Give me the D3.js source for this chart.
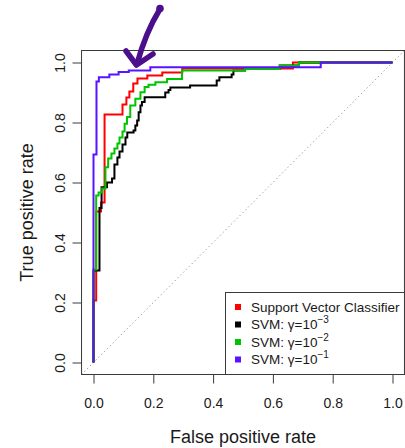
<!DOCTYPE html>
<html><head><meta charset="utf-8">
<script src="https://cdn.jsdelivr.net/npm/d3@7"></script>
<style>
html,body{margin:0;padding:0;background:#fff;}
svg{display:block;font-family:"Liberation Sans",Arial,Helvetica,sans-serif;}
</style></head>
<body>
<svg id="chart" width="405" height="448"></svg>
<script>
// ROC curve points: (fpr at which rise occurs, tpr after rise)
const fprSVC = [0, 0, 0.009, 0.025, 0.037, 0.097, 0.110, 0.120, 0.133, 0.147, 0.180, 0.230, 0.297, 0.667, 1];
const tprSVC = [0, 0.207, 0.503, 0.533, 0.827, 0.860, 0.883, 0.903, 0.930, 0.947, 0.957, 0.967, 0.980, 1.0, 1];

const fprG3 = [0, 0, 0.020, 0.027, 0.045, 0.062, 0.070, 0.080, 0.087, 0.097, 0.107, 0.113, 0.134, 0.140, 0.146, 0.151, 0.157, 0.162, 0.171, 0.240, 0.251, 0.257, 0.323, 0.412, 0.421, 0.462, 0.468, 0.507, 0.623, 0.687, 1];
const tprG3 = [0, 0.307, 0.515, 0.584, 0.600, 0.613, 0.660, 0.683, 0.703, 0.727, 0.750, 0.767, 0.773, 0.790, 0.807, 0.834, 0.857, 0.868, 0.884, 0.900, 0.908, 0.917, 0.923, 0.940, 0.951, 0.960, 0.973, 0.978, 0.990, 1.0, 1];

const fprG2 = [0, 0, 0.009, 0.017, 0.029, 0.040, 0.049, 0.060, 0.070, 0.080, 0.087, 0.097, 0.104, 0.112, 0.123, 0.140, 0.157, 0.171, 0.184, 0.207, 0.246, 0.296, 0.507, 0.623, 0.687, 1];
const tprG2 = [0, 0.310, 0.557, 0.567, 0.580, 0.651, 0.680, 0.697, 0.713, 0.730, 0.750, 0.770, 0.796, 0.818, 0.857, 0.879, 0.901, 0.918, 0.926, 0.934, 0.945, 0.973, 0.978, 0.990, 1.0, 1];

const fprG1 = [0, 0, 0.010, 0.018, 0.053, 0.084, 0.118, 0.190, 0.760, 1];
const tprG1 = [0, 0.693, 0.937, 0.951, 0.960, 0.968, 0.973, 0.984, 1.0, 1];

const seriesNames = ["Support Vector Classifier", "SVM: \u03b3=10", "SVM: \u03b3=10", "SVM: \u03b3=10"];
const seriesExp = ["", "\u22123", "\u22122", "\u22121"];
const seriesColors = ["#FF0000", "#000000", "#00C400", "#5A12FF"];
const xTicks = [0, 0.2, 0.4, 0.6, 0.8, 1.0];
const yTicks = [0, 0.2, 0.4, 0.6, 0.8, 1.0];

const svg = d3.select("#chart");
const x = d3.scaleLinear().domain([0, 1]).range([93.5, 392.5]);
const y = d3.scaleLinear().domain([0, 1]).range([362.5, 62.5]);
const bx0 = x(-0.04), bx1 = x(1.04), by0 = y(1.04), by1 = y(-0.04);

// diagonal reference line (clipped to box)
svg.append("line")
  .attr("x1", x(-0.04)).attr("y1", y(-0.04))
  .attr("x2", x(1.04)).attr("y2", y(1.04))
  .attr("stroke", "#9a9a9a").attr("stroke-width", 1)
  .attr("stroke-dasharray", "1.3,2.7");

const line = d3.line().x(d => x(d[0])).y(d => y(d[1])).curve(d3.curveStepAfter);
const allSeries = [[fprSVC, tprSVC], [fprG3, tprG3], [fprG2, tprG2], [fprG1, tprG1]];
allSeries.forEach((s, i) => {
  const pts = s[0].map((v, j) => [v, s[1][j]]);
  svg.append("path").datum(pts)
    .attr("d", line).attr("fill", "none")
    .attr("stroke", seriesColors[i]).attr("stroke-width", 2)
    .attr("stroke-linejoin", "miter").attr("stroke-linecap", "butt");
});

// box
svg.append("rect").attr("x", bx0).attr("y", by0)
  .attr("width", bx1 - bx0).attr("height", by1 - by0)
  .attr("fill", "none").attr("stroke", "#3a3a3a").attr("stroke-width", 1);

// x axis
const gx = svg.append("g").attr("transform", `translate(0,${by1})`)
  .call(d3.axisBottom(x).tickValues(xTicks).tickSize(9).tickPadding(0).tickFormat(d3.format(".1f")));
gx.select(".domain").remove();
gx.selectAll(".tick line").attr("stroke", "#3a3a3a");
gx.selectAll(".tick text").attr("y", 33.5).attr("dy", 0)
  .attr("font-size", 14).attr("fill", "#1a1a1a").attr("font-family", "Liberation Sans, Arial, sans-serif");

// y axis
const gy = svg.append("g").attr("transform", `translate(${bx0},0)`)
  .call(d3.axisLeft(y).tickValues(yTicks).tickSize(9).tickFormat(d3.format(".1f")));
gy.select(".domain").remove();
gy.selectAll(".tick line").attr("stroke", "#3a3a3a");
gy.selectAll(".tick text")
  .attr("transform", "rotate(-90)")
  .attr("x", 0).attr("y", -16.5).attr("dy", 0)
  .attr("text-anchor", "middle")
  .attr("font-size", 14).attr("fill", "#1a1a1a").attr("font-family", "Liberation Sans, Arial, sans-serif");

// axis titles
svg.append("text").attr("x", (x(0) + x(1)) / 2).attr("y", 443)
  .attr("text-anchor", "middle").attr("font-size", 18).attr("fill", "#1a1a1a")
  .text("False positive rate");
svg.append("text")
  .attr("transform", `translate(33,${(y(0) + y(1)) / 2}) rotate(-90)`)
  .attr("text-anchor", "middle").attr("font-size", 18).attr("fill", "#1a1a1a")
  .text("True positive rate");

// legend
const lg = svg.append("g");
lg.append("rect").attr("x", 225.5).attr("y", 292.5)
  .attr("width", bx1 - 225.5).attr("height", by1 - 292.5)
  .attr("fill", "#fff").attr("stroke", "#3a3a3a").attr("stroke-width", 1);
seriesNames.forEach((name, i) => {
  const base = 311.5 + i * 17.5;
  lg.append("rect").attr("x", 235).attr("y", base - 7.5).attr("width", 6).attr("height", 6)
    .attr("fill", seriesColors[i]);
  const t = lg.append("text").attr("x", 251).attr("y", base)
    .attr("font-size", 13.5).attr("fill", "#1a1a1a");
  t.append("tspan").text(name);
  if (seriesExp[i]) {
    t.append("tspan").attr("dy", -6).attr("font-size", 10).text(seriesExp[i]);
  }
});

// hand-drawn annotation arrow
const arrowColor = "#4B0E8C";
svg.append("path")
  .attr("d", "M160,9 C152,22 143,42 137,64")
  .attr("fill", "none").attr("stroke", arrowColor).attr("stroke-width", 5.5)
  .attr("stroke-linecap", "round");
svg.append("path")
  .attr("d", "M126,51 L136.5,65 L153,54")
  .attr("fill", "none").attr("stroke", arrowColor).attr("stroke-width", 5.5)
  .attr("stroke-linecap", "round").attr("stroke-linejoin", "round");
svg.append("circle").attr("cx", 160).attr("cy", 8.5).attr("r", 3.8).attr("fill", arrowColor);
</script>
</body></html>
